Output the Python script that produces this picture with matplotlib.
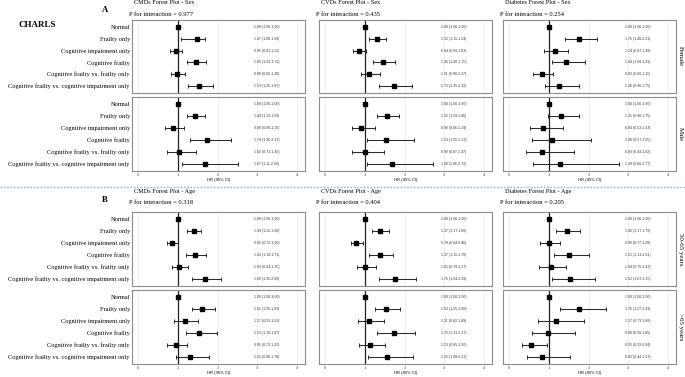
import numpy as np
import matplotlib
matplotlib.use("Agg")
import matplotlib.pyplot as plt
from matplotlib.lines import Line2D

rows = ["Normal", "Frailty only", "Cognitive impairment only", "Cognitive frailty",
        "Cognitive frailty vs. frailty only", "Cognitive frailty vs. cognitive impairment only"]

# A: by sex
cmds_female_hr = [1.00, 1.47, 0.95, 1.45, 0.98, 1.53]
cmds_female_lo = [1.00, 1.08, 0.81, 1.23, 0.82, 1.25]
cmds_female_hi = [1.00, 1.69, 1.11, 1.71, 1.18, 1.87]
cmds_male_hr = [1.00, 1.44, 0.88, 1.74, 1.02, 1.67]
cmds_male_lo = [1.00, 1.23, 0.68, 1.30, 0.72, 1.11]
cmds_male_hi = [1.00, 1.69, 1.15, 2.33, 1.45, 2.50]
cvds_female_hr = [1.00, 1.31, 0.84, 1.45, 1.11, 1.72]
cvds_female_lo = [1.00, 1.11, 0.69, 1.20, 0.90, 1.35]
cvds_female_hi = [1.00, 1.54, 1.03, 1.75, 1.37, 2.19]
cvds_male_hr = [1.00, 1.55, 0.90, 1.53, 0.99, 1.69]
cvds_male_lo = [1.00, 1.29, 0.66, 1.05, 0.67, 1.06]
cvds_male_hi = [1.00, 1.86, 1.24, 2.23, 1.47, 2.72]
diab_female_hr = [1.00, 1.76, 1.14, 1.44, 0.82, 1.26]
diab_female_lo = [1.00, 1.40, 0.87, 1.08, 0.60, 0.90]
diab_female_hi = [1.00, 2.21, 1.49, 1.91, 1.11, 1.75]
diab_male_hr = [1.00, 1.31, 0.84, 1.08, 0.83, 1.28]
diab_male_lo = [1.00, 0.98, 0.53, 0.57, 0.43, 0.60]
diab_male_hi = [1.00, 1.75, 1.34, 2.05, 1.62, 2.77]

# B: by age
cmds_mid_hr = [1.00, 1.39, 0.85, 1.43, 1.03, 1.68]
cmds_mid_lo = [1.00, 1.22, 0.72, 1.19, 0.84, 1.35]
cmds_mid_hi = [1.00, 1.58, 1.00, 1.71, 1.25, 2.09]
cmds_old_hr = [1.00, 1.61, 1.17, 1.53, 0.95, 1.31]
cmds_old_lo = [1.00, 1.35, 0.91, 1.19, 0.73, 0.96]
cmds_old_hi = [1.00, 1.93, 1.51, 1.97, 1.22, 1.78]
cvds_mid_hr = [1.00, 1.37, 0.78, 1.37, 1.01, 1.76]
cvds_mid_lo = [1.00, 1.17, 0.64, 1.11, 0.79, 1.34]
cvds_mid_hi = [1.00, 1.60, 0.96, 1.70, 1.27, 2.29]
cvds_old_hr = [1.00, 1.53, 1.11, 1.72, 1.13, 1.55]
cvds_old_lo = [1.00, 1.25, 0.82, 1.31, 0.85, 1.08]
cvds_old_hi = [1.00, 1.88, 1.49, 2.27, 1.50, 2.21]
diab_mid_hr = [1.00, 1.45, 0.99, 1.51, 1.04, 1.52]
diab_mid_lo = [1.00, 1.17, 0.77, 1.13, 0.75, 1.07]
diab_mid_hi = [1.00, 1.79, 1.28, 2.01, 1.43, 2.15]
diab_old_hr = [1.00, 1.76, 1.17, 0.98, 0.55, 0.82]
diab_old_lo = [1.00, 1.27, 0.73, 0.58, 0.32, 0.44]
diab_old_hi = [1.00, 2.43, 1.88, 1.65, 0.94, 1.53]

titles_sex = ["CMDs Forest Plot - Sex", "CVDs Forest Plot - Sex", "Diabetes Forest Plot - Sex"]
titles_age = ["CMDs Forest Plot - Age", "CVDs Forest Plot - Age", "Diabetes Forest Plot - Age"]
p_sex = ["0.977", "0.435", "0.254"]
p_age = ["0.318", "0.404", "0.205"]
strips_sex = ["Female", "Male"]
strips_age = ["50-65 years", ">65 years"]

W, H = 685, 377
fig = plt.figure(figsize=(6.85, 3.77), dpi=100)
SERIF = "Liberation Serif"
SANS = "Liberation Sans"


def rect(l, t, r, b):
    return [l / W, 1 - b / H, (r - l) / W, (b - t) / H]


def forest(ax, hr, lo, hi, ylabels, xlabels):
    hr, lo, hi = np.array(hr), np.array(lo), np.array(hi)
    y = np.arange(len(hr))
    for g in [0, 2, 3, 4]:
        ax.axvline(g, color="#e8e8e8", lw=0.5, zorder=0)
    ax.axvline(1, color="#222222", lw=0.9, zorder=1)
    ax.errorbar(hr, y, xerr=[hr - lo, hi - hr], fmt="none", ecolor="#2a2a2a",
                elinewidth=0.75, capsize=1.4, capthick=0.7, zorder=2)
    ax.plot(hr, y, "s", color="black", ms=2.5, zorder=3)
    for yi, h, l, u in zip(y, hr, lo, hi):
        ax.text(2.92, yi, f"{h:.2f} ({l:.2f}-{u:.2f})", fontsize=2.5, family=SANS,
                color="#333333", va="center", ha="left")
    ax.set_xlim(-0.16, 4.2)
    ax.set_ylim(5.6, -0.6)
    ax.set_xticks([0, 1, 2, 3, 4])
    ax.set_yticks(y)
    ax.tick_params(length=0, pad=1.5)
    if ylabels:
        ax.set_yticklabels(rows, fontsize=4.6, family=SERIF)
    else:
        ax.set_yticklabels([])
    if xlabels:
        ax.set_xticklabels(["0", "1", "2", "3", "4"], fontsize=3, family=SANS, color="#4d4d4d")
        ax.set_xlabel("HR (95% CI)", fontsize=3, family=SANS, labelpad=1)
    else:
        ax.set_xticklabels([])
    for s in ax.spines.values():
        s.set_color("#8c8c8c")
        s.set_linewidth(0.8)


cols = [(132, 305), (319, 492), (503, 676)]
sections = [
    dict(tops=[(20, 93), (97, 171)], title_y=3, p_y=14, letter="A", letter_y=10,
         titles=titles_sex, pvals=p_sex, strips=strips_sex,
         data=[[(cmds_female_hr, cmds_female_lo, cmds_female_hi), (cmds_male_hr, cmds_male_lo, cmds_male_hi)],
               [(cvds_female_hr, cvds_female_lo, cvds_female_hi), (cvds_male_hr, cvds_male_lo, cvds_male_hi)],
               [(diab_female_hr, diab_female_lo, diab_female_hi), (diab_male_hr, diab_male_lo, diab_male_hi)]]),
    dict(tops=[(212, 286), (290, 364)], title_y=192, p_y=203, letter="B", letter_y=200,
         titles=titles_age, pvals=p_age, strips=strips_age,
         data=[[(cmds_mid_hr, cmds_mid_lo, cmds_mid_hi), (cmds_old_hr, cmds_old_lo, cmds_old_hi)],
               [(cvds_mid_hr, cvds_mid_lo, cvds_mid_hi), (cvds_old_hr, cvds_old_lo, cvds_old_hi)],
               [(diab_mid_hr, diab_mid_lo, diab_mid_hi), (diab_old_hr, diab_old_lo, diab_old_hi)]]),
]

for sec in sections:
    for c, (l, r) in enumerate(cols):
        fig.text((l + 2) / W, 1 - sec["title_y"] / H, sec["titles"][c], fontsize=4.5,
                 family=SERIF, va="center", ha="left")
        fig.text((l - 3) / W, 1 - sec["p_y"] / H, "P for interaction = " + sec["pvals"][c],
                 fontsize=4.7, family=SERIF, va="center", ha="left")
        for k, (t, b) in enumerate(sec["tops"]):
            ax = fig.add_axes(rect(l, t, r, b))
            hr, lo, hi = sec["data"][c][k]
            forest(ax, hr, lo, hi, ylabels=(c == 0), xlabels=(k == 1))
            if c == 2:
                fig.text(680.5 / W, 1 - (t + b) / 2 / H, sec["strips"][k], fontsize=5,
                         family=SERIF, rotation=270, va="center", ha="center")
    fig.text(105 / W, 1 - sec["letter_y"] / H, sec["letter"], fontsize=6.2, family=SERIF,
             weight="bold", va="center", ha="center")

fig.text(37 / W, 1 - 25 / H, "CHARLS", fontsize=6.5, family=SERIF, weight="bold",
         va="center", ha="center")
fig.add_artist(Line2D([0, 1], [1 - 187 / H] * 2, color="#8fb0dc", lw=1.0, ls=(0, (1.2, 1.2))))

fig.savefig("out.png", dpi=100)
